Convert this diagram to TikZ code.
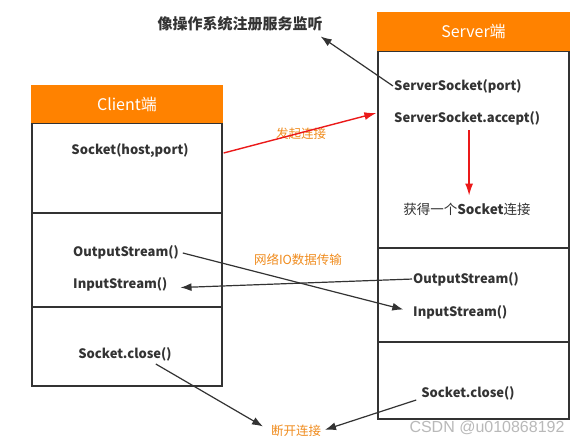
\documentclass[tikz,border=0pt]{standalone}
\usepackage{fontspec}
\setmainfont{Noto Sans CJK SC}
\newfontfamily\wmfont{Liberation Sans}
\usetikzlibrary{arrows.meta,calc}
\definecolor{hdr}{RGB}{255,130,0}
\definecolor{ink}{RGB}{51,51,51}
\definecolor{lbl}{RGB}{240,140,30}
\definecolor{redl}{RGB}{235,25,25}
\definecolor{wmc}{RGB}{185,185,185}
\begin{document}
\begin{tikzpicture}[x=1pt,y=-1pt,
  hdrbox/.style={fill=hdr,draw=none,inner sep=0pt,text=white,font=\fontsize{16}{18}\selectfont},
  secbox/.style={draw=ink,line width=1.3pt,inner sep=0pt},
  txt/.style={inner sep=0pt,text=ink,font=\fontsize{13}{15}\selectfont\bfseries},
  cjktxt/.style={inner sep=0pt,text=ink,font=\fontsize{13.5}{15}\selectfont},
  lbltxt/.style={inner sep=0pt,text=lbl,font=\fontsize{12.5}{14}\selectfont},
  blk/.style={draw=ink,line width=1.2pt,-{Latex[length=11pt,width=8pt]}},
  redarr/.style={draw=redl,line width=1.4pt,-{Latex[length=12pt,width=8pt]}}]
\fill[white] (0,0) rectangle (583,445);
\useasboundingbox (0,0) rectangle (583,445);

% client box
\node[secbox,minimum width=190pt,minimum height=90pt] (csec1) at (127,168) {};
\node[secbox,minimum width=190pt,minimum height=94pt] (csec2) at (127,260) {};
\node[secbox,minimum width=190pt,minimum height=79pt] (csec3) at (127,346.5) {};
\node[hdrbox,minimum width=191.3pt,minimum height=38pt] (chdr) at (127,104) {Client端};

% server box
\node[secbox,minimum width=191pt,minimum height=197pt] (ssec1) at (473.5,149.5) {};
\node[secbox,minimum width=191pt,minimum height=94pt] (ssec2) at (473.5,295) {};
\node[secbox,minimum width=191pt,minimum height=77pt] (ssec3) at (473.5,380.5) {};
\node[hdrbox,minimum width=192.3pt,minimum height=39pt] (shdr) at (473.5,31.5) {Server端};

% texts
\node[txt,font=\fontsize{15}{17}\selectfont\bfseries] (title) at (240,24) {像操作系统注册服务监听};
\node[txt] (csock) at (130,151) {Socket(host,port)};
\node[txt,anchor=west] (cout) at (73,252) {OutputStream()};
\node[txt,anchor=west] (cin) at (73,284) {InputStream()};
\node[txt] (cclose) at (125,354) {Socket.close()};

\node[txt,anchor=west] (ssp) at (394,86) {ServerSocket(port)};
\node[txt,anchor=west] (sacc) at (394,118) {ServerSocket.accept()};
\node[cjktxt] (sget) at (467,209) {获得一个\textbf{Socket}连接};
\node[txt,anchor=west] (sout) at (413,279) {OutputStream()};
\node[txt,anchor=west] (sin) at (413,312) {InputStream()};
\node[txt] (sclose) at (468,393) {Socket.close()};

\node[lbltxt] (l1) at (301,134) {发起连接};
\node[lbltxt] (l2) at (298,260) {网络IO数据传输};
\node[lbltxt] (l3) at (296,431) {断开连接};

\node[inner sep=0pt,text=wmc,font=\wmfont\fontsize{16}{18}\selectfont] (wm) at (487,428) {CSDN @u010868192};

% connectors
\coordinate (ttip) at ($(title.south east)+(-2,5)$);
\draw[blk] ($(ssp.west)+(-1,0)$) -- (ttip);

\coordinate (rstart) at (csec1.east |- csock);
\coordinate (rtip) at ($(ssec1.west |- sacc)+(-1,-5)$);
\draw[redarr] ($(rstart)+(1,2)$) -- (rtip);

\coordinate (dtop) at ($(sacc.south)+(2,0)$);
\draw[redarr,shorten <=5pt,shorten >=7pt] (dtop) -- (dtop |- sget.north);

\draw[blk,shorten <=4pt,shorten >=10pt] (cout.east) -- (sin.west);
\draw[blk,shorten <=1pt,shorten >=13pt] (sout.west) -- ($(cin.east)+(0,4)$);

\draw[blk,shorten >=9pt] ($(cclose.south east)+(-16,3)$) -- (l3.west);
\draw[blk,shorten >=4pt] ($(sclose.south west)+(-5,0)$) -- (l3.east);
\end{tikzpicture}
\end{document}
